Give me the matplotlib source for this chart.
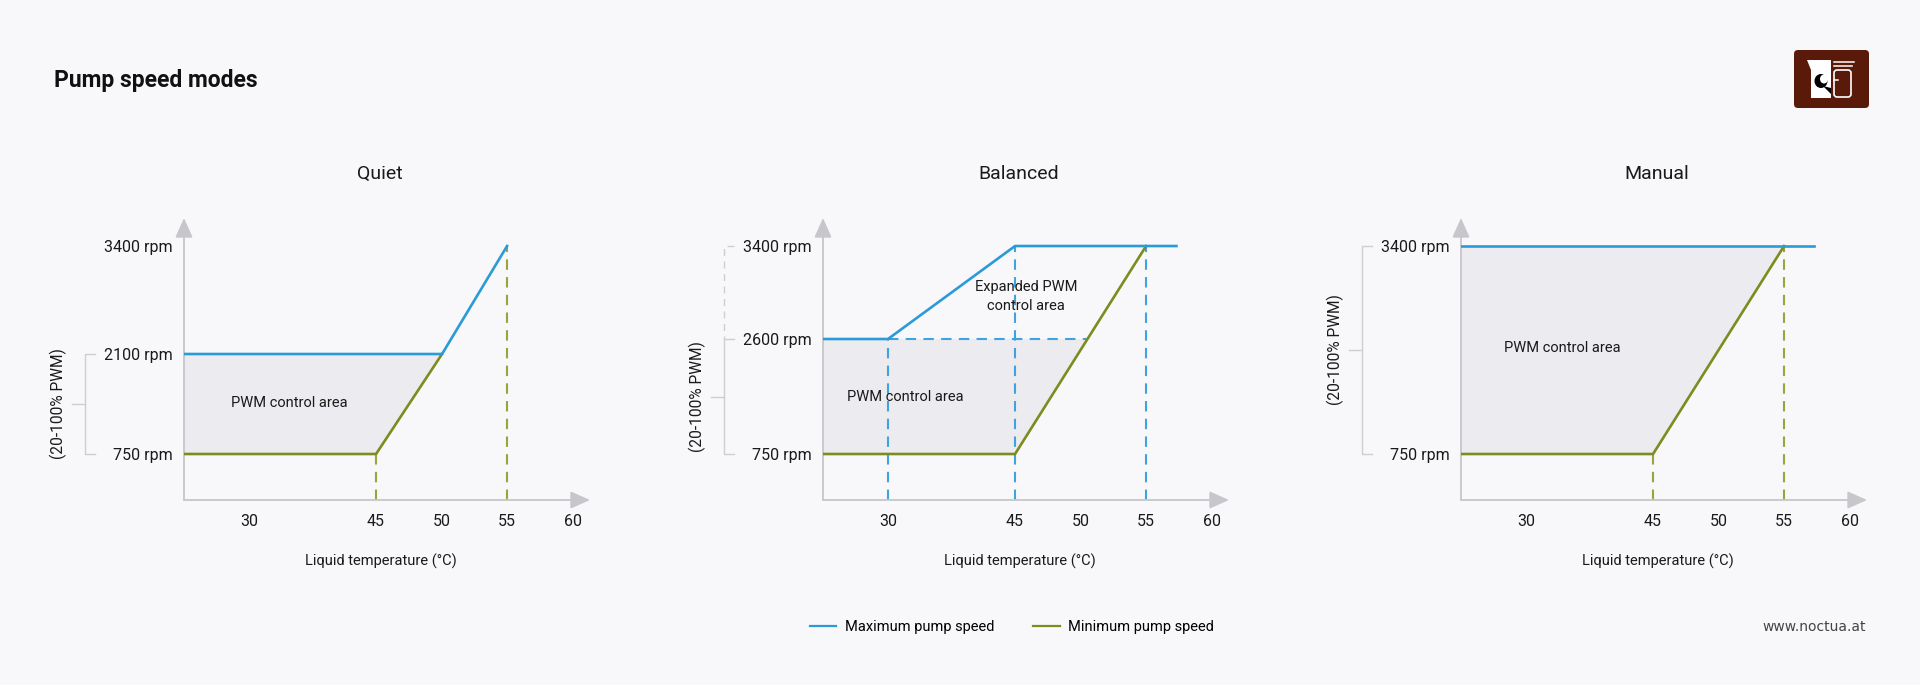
import numpy as np
import matplotlib
matplotlib.use('Agg')
import matplotlib.pyplot as plt
import matplotlib.transforms as mtransforms
from matplotlib.patches import FancyBboxPatch, Polygon, Ellipse
from matplotlib.lines import Line2D

plt.rcParams['font.family'] = ['Roboto', 'DejaVu Sans']

# ---- data ----
modes = ['Quiet', 'Balanced', 'Manual']
x_ticks = [30, 45, 50, 55, 60]

quiet_max_t, quiet_max_rpm = [25, 50, 55], [2100, 2100, 3400]
quiet_min_t, quiet_min_rpm = [25, 45, 50], [750, 750, 2100]
quiet_yticks = [750, 2100, 3400]
quiet_marks = [(45, 750), (55, 3400)]                  # green dashed drop lines

bal_max_t, bal_max_rpm = [25, 30, 45, 57.3], [2600, 2600, 3400, 3400]
bal_min_t, bal_min_rpm = [25, 45, 55], [750, 750, 3400]
bal_yticks = [750, 2600, 3400]
bal_marks = [(30, 2600), (45, 3400), (55, 3400)]       # blue dashed drop lines
bal_cross_t = 50.5                                     # min line meets 2600 rpm

man_max_t, man_max_rpm = [25, 57.3], [3400, 3400]
man_min_t, man_min_rpm = [25, 45, 55], [750, 750, 3400]
man_yticks = [750, 3400]
man_marks = [(45, 750), (55, 3400)]

# schematic (non-linear) axes of the original drawing
T_KNOTS = [25, 30, 45, 50, 55, 60, 65]
T_POS = [0, 65, 192, 258, 323, 389, 454]
R_KNOTS = [0, 750, 2100, 2600, 3400, 4200]
R_POS = [0, 46, 146, 161, 254, 347]

BG = '#f8f7fa'
BLUE = '#2b9bd8'
GREEN = '#7d8c1e'
GREEN_D = '#9ba33c'
BLUE_D = '#3fa3de'
FILL = '#ecebef'
AXC = '#c6c6cb'
BRK = '#cdcdd2'
TXT = '#1a1a1a'
FS = 10.5

fx = (lambda t: np.interp(t, T_KNOTS, T_POS), lambda p: np.interp(p, T_POS, T_KNOTS))
fy = (lambda r: np.interp(r, R_KNOTS, R_POS), lambda p: np.interp(p, R_POS, R_KNOTS))

W, H = 1920, 685
fig = plt.figure(figsize=(W / 100, H / 100), dpi=100, facecolor=BG)

AX_W, AX_H = 406, 282
lefts = [184, 823, 1461]


def make_ax(left):
    ax = fig.add_axes([left / W, (H - 500) / H, AX_W / W, AX_H / H])
    ax.set_facecolor('none')
    ax.set_xscale('function', functions=fx)
    ax.set_yscale('function', functions=fy)
    ax.set_xlim(25, 61.3)
    ax.set_ylim(0, 3641)
    for s in ax.spines.values():
        s.set_visible(False)
    ax.set_xticks(x_ticks)
    ax.set_xticklabels([str(v) for v in x_ticks])
    ax.tick_params(length=0, labelsize=11.5, colors=TXT)
    ax.tick_params(axis='x', pad=10)
    ax.tick_params(axis='y', pad=8)
    ax.minorticks_off()
    arrow = dict(arrowstyle='-|>,head_length=0.85,head_width=0.38', color=AXC,
                 lw=1.3, mutation_scale=14, shrinkA=0, shrinkB=0)
    ax.annotate('', xy=(1, 0), xytext=(0, 0), xycoords='axes fraction', arrowprops=arrow)
    ax.annotate('', xy=(0, 1), xytext=(0, 0), xycoords='axes fraction', arrowprops=arrow)
    ax.text(0.485, -0.216, 'Liquid temperature (°C)', transform=ax.transAxes,
            ha='center', va='center', fontsize=FS, color=TXT)
    return ax


def yticks(ax, vals):
    ax.set_yticks(vals)
    ax.set_yticklabels([f'{v} rpm' for v in vals])


def ymid(a, b):
    return fy[1]((fy[0](a) + fy[0](b)) / 2)


def bracket(ax, top, bot, dashed_top=None):
    tr = mtransforms.blended_transform_factory(ax.transAxes, ax.transData)
    xv, xe, xt = -99 / AX_W, -89 / AX_W, -112 / AX_W
    ax.plot([xe, xv, xv, xe], [top, top, bot, bot], color=BRK, lw=1.0,
            transform=tr, clip_on=False)
    if dashed_top is not None:
        ax.plot([xe, xv, xv], [dashed_top, dashed_top, top], color=BRK, lw=1.0,
                ls=(0, (5, 4)), transform=tr, clip_on=False)
    m = ymid(top, bot)
    ax.plot([xt, xv], [m, m], color=BRK, lw=1.0, transform=tr, clip_on=False)
    ax.text(-126 / AX_W, m, '(20-100% PWM)', transform=tr, rotation=90,
            ha='center', va='center', fontsize=11.2, color=TXT)


def drops(ax, marks, color):
    for t, r in marks:
        ax.plot([t, t], [0, r], color=color, lw=1.5, ls=(0, (5, 3.5)), zorder=2)


axes = [make_ax(l) for l in lefts]
for ax, name in zip(axes, modes):
    ax.text(0.483, 1.156, name, transform=ax.transAxes, ha='center', va='center',
            fontsize=14, color=TXT)

# Quiet
ax = axes[0]
ax.fill([25, 45, 50, 25], [750, 750, 2100, 2100], color=FILL, lw=0, zorder=1)
drops(ax, quiet_marks, GREEN_D)
ax.plot(quiet_min_t, quiet_min_rpm, color=GREEN, lw=1.9, zorder=3)
ax.plot(quiet_max_t, quiet_max_rpm, color=BLUE, lw=1.9, zorder=3)
yticks(ax, quiet_yticks)
bracket(ax, 2100, 750)
ax.text(0.259, 0.344, 'PWM control area', transform=ax.transAxes,
        ha='center', va='center', fontsize=FS, color=TXT)

# Balanced
ax = axes[1]
ax.fill([25, 45, bal_cross_t, 25], [750, 750, 2600, 2600], color=FILL, lw=0, zorder=1)
drops(ax, bal_marks, BLUE_D)
ax.plot([30, bal_cross_t], [2600, 2600], color=BLUE_D, lw=1.5, ls=(0, (5, 3.5)), zorder=2)
ax.plot(bal_min_t, bal_min_rpm, color=GREEN, lw=1.9, zorder=3)
ax.plot(bal_max_t, bal_max_rpm, color=BLUE, lw=1.9, zorder=3)
yticks(ax, bal_yticks)
bracket(ax, 2600, 750, dashed_top=3400)
ax.text(0.202, 0.365, 'PWM control area', transform=ax.transAxes,
        ha='center', va='center', fontsize=FS, color=TXT)
ax.text(0.5, 0.72, 'Expanded PWM\ncontrol area', transform=ax.transAxes,
        ha='center', va='center', fontsize=FS, color=TXT, linespacing=1.45)

# Manual
ax = axes[2]
ax.fill([25, 45, 55, 25], [750, 750, 3400, 3400], color=FILL, lw=0, zorder=1)
drops(ax, man_marks, GREEN_D)
ax.plot(man_min_t, man_min_rpm, color=GREEN, lw=1.9, zorder=3)
ax.plot(man_max_t, man_max_rpm, color=BLUE, lw=1.9, zorder=3)
yticks(ax, man_yticks)
bracket(ax, 3400, 750)
ax.text(0.249, 0.539, 'PWM control area', transform=ax.transAxes,
        ha='center', va='center', fontsize=FS, color=TXT)

# header, legend, footer
fig.text(54 / W, 1 - 80 / H, 'Pump speed modes', fontsize=16.5, fontweight='bold',
         color='#111111', ha='left', va='center')
fig.legend([Line2D([], [], color=BLUE, lw=1.6), Line2D([], [], color=GREEN, lw=1.6)],
           ['Maximum pump speed', 'Minimum pump speed'], loc='center',
           bbox_to_anchor=(1012 / W, 1 - 627 / H), ncol=2, frameon=False,
           fontsize=FS, handlelength=1.8, handletextpad=0.6, columnspacing=2.7)
fig.text(1866 / W, 1 - 627 / H, 'www.noctua.at', fontsize=10, color='#444444',
         ha='right', va='center', family='DejaVu Sans')

# logo
lg = fig.add_axes([1794 / W, 1 - 108 / H, 75 / W, 58 / H])
lg.set_xlim(0, 75)
lg.set_ylim(58, 0)
lg.axis('off')
lg.add_patch(FancyBboxPatch((0, 0), 75, 58, boxstyle='round,pad=0,rounding_size=4',
                            fc='#5a1a0a', ec='none'))
lg.add_patch(Polygon([(13, 10), (37, 10), (37, 48), (17, 48), (17, 20)], closed=True,
                     fc='white', ec='none'))
lg.add_patch(Ellipse((27, 31), 13, 14, fc='black', ec='none'))
lg.add_patch(Ellipse((30, 29), 8, 9, fc='white', ec='none'))
lg.add_patch(Polygon([(29, 36), (37, 44), (37, 38)], closed=True, fc='black', ec='none'))
lg.add_patch(FancyBboxPatch((40, 20), 17, 27, boxstyle='round,pad=0,rounding_size=3',
                            fc='none', ec='white', lw=1.2))
lg.plot([40, 60], [12, 12], color='white', lw=1.1)
lg.plot([40, 58], [16, 16], color='white', lw=1.1)
lg.plot([40, 44], [30, 30], color='white', lw=1.1)

fig.savefig('out.png', dpi=100, facecolor=BG)
